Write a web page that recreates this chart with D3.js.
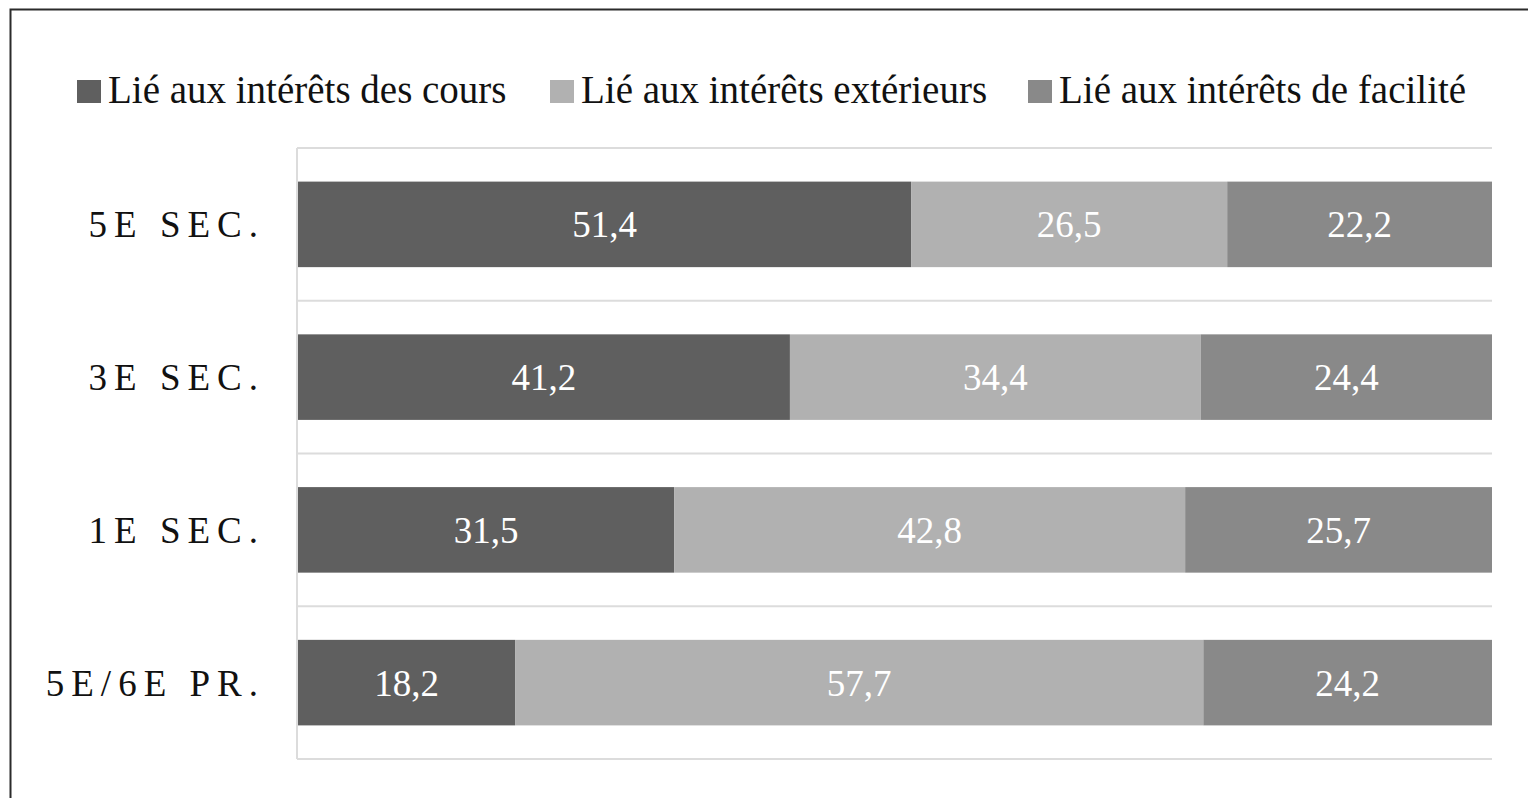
<!DOCTYPE html>
<html>
<head>
<meta charset="utf-8">
<script src="https://cdn.jsdelivr.net/npm/d3@7"></script>
<style>
  body { margin: 0; background: #fff; }
  svg { display: block; }
</style>
</head>
<body>
<div id="chart"></div>
<script>
const width = 1528
const height = 798
const margin = ({ top: 148, right: 36, bottom: 39, left: 298 })
const serif = '"Liberation Serif", "Times New Roman", Times, serif'

// listed top to bottom as drawn
const categories = ['5E SEC.', '3E SEC.', '1E SEC.', '5E/6E PR.']
const seriesNames = ['Lié aux intérêts des cours', 'Lié aux intérêts extérieurs', 'Lié aux intérêts de facilité']
const coursValues = [51.4, 41.2, 31.5, 18.2]
const exterieursValues = [26.5, 34.4, 42.8, 57.7]
const faciliteValues = [22.2, 24.4, 25.7, 24.2]
const colors = ['#5f5f5f', '#b1b1b1', '#898989']

const rows = categories.map((c, i) => {
  const vals = [coursValues[i], exterieursValues[i], faciliteValues[i]]
  const total = d3.sum(vals)
  return { cat: c, vals: vals, share: vals.map(v => v / total) }
})

const svg = d3.select('#chart').append('svg')
  .attr('width', width)
  .attr('height', height)
  .attr('font-family', serif)
  .style('font-family', serif)

// outer frame
svg.append('rect')
  .attr('x', 10.5).attr('y', 9.5)
  .attr('width', width + 20).attr('height', height + 20)
  .attr('fill', 'none')
  .attr('stroke', '#2b2b2b')
  .attr('stroke-width', 2)

let xScale = d3.scaleLinear()
  .domain([0, 1])
  .range([margin.left, width - margin.right])

let yScale = d3.scaleBand()
  .domain(categories)
  .range([margin.top, height - margin.bottom])
  .paddingInner(0.44)
  .paddingOuter(0.22)

// gridlines at category boundaries
const step = yScale.step()
const bounds = d3.range(categories.length + 1).map(i => margin.top + i * step)
svg.append('g')
  .selectAll('line')
  .data(bounds)
  .enter().append('line')
  .attr('x1', xScale(0) - 1)
  .attr('x2', xScale(1))
  .attr('y1', d => d)
  .attr('y2', d => d)
  .attr('stroke', '#dcdcdc')
  .attr('stroke-width', 2)

svg.append('line')
  .attr('x1', xScale(0) - 1).attr('x2', xScale(0) - 1)
  .attr('y1', bounds[0]).attr('y2', bounds[bounds.length - 1])
  .attr('stroke', '#dcdcdc')
  .attr('stroke-width', 2)

// stacked segments
rows.forEach(r => {
  let acc = 0
  r.share.forEach((s, j) => {
    const x0 = xScale(acc)
    const x1 = xScale(acc + s)
    acc += s
    svg.append('rect')
      .attr('x', x0)
      .attr('y', yScale(r.cat))
      .attr('width', x1 - x0)
      .attr('height', yScale.bandwidth())
      .attr('fill', colors[j])
    svg.append('text')
      .attr('x', (x0 + x1) / 2)
      .attr('y', yScale(r.cat) + yScale.bandwidth() / 2)
      .attr('dy', '0.35em')
      .attr('text-anchor', 'middle')
      .attr('fill', '#fff')
      .style('font-size', '37px')
      .text(d3.format('.1f')(r.vals[j]).replace('.', ','))
  })
})

// category labels
svg.append('g')
  .selectAll('text')
  .data(categories)
  .enter().append('text')
  .attr('x', 265)
  .attr('y', d => yScale(d) + yScale.bandwidth() / 2)
  .attr('dy', '0.35em')
  .attr('text-anchor', 'end')
  .style('font-size', '37px')
  .style('letter-spacing', '7px')
  .attr('fill', '#111')
  .text(d => d)

// legend
const legendX = [77, 550, 1028]
const legend = svg.append('g')
seriesNames.forEach((name, i) => {
  legend.append('rect')
    .attr('x', legendX[i]).attr('y', 80)
    .attr('width', 24).attr('height', 23)
    .attr('fill', colors[i])
  legend.append('text')
    .attr('x', legendX[i] + 31)
    .attr('y', 103)
    .style('font-size', '39px')
    .attr('fill', '#111')
    .text(name)
})
</script>
</body>
</html>
